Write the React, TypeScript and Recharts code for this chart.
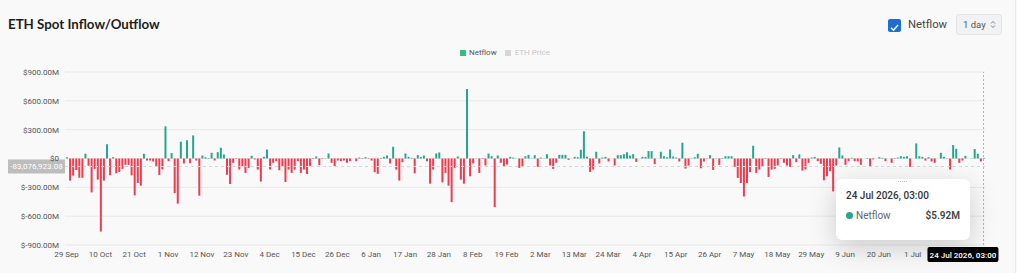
import {
  Bar,
  BarChart,
  CartesianGrid,
  Cell,
  ReferenceLine,
  Tooltip,
  XAxis,
  YAxis,
} from "recharts";

// daily netflow, $M, 29 Sep 2025 .. 24 Jul 2026
const netflow = [
  14, -230, -178, -120, -200, -200, 50, -75, -353, -108,
  -220, -760, -230, 147, -175, 14, -154, -140, -108, -66,
  -66, -175, -384, -255, -283, 49, -21, -21, -31, -80,
  -171, -115, 335, -28, 56, -360, -470, 175, -52, 190,
  -49, 240, -21, -387, 31, 14, 5, 59, -21, 66,
  112, 42, -168, -265, -45, -5, -115, -80, -150, -98,
  28, -10, -115, -240, 17, 94, -115, -45, -28, -122,
  -80, -245, -115, -150, -115, -28, -150, -115, -160, -80,
  -5, 21, -70, -5, 3, 52, -45, -80, -21, -28,
  -21, -45, -28, 0, -28, 10, -5, 14, -5, -21,
  -143, -160,
  7, 17, 31, -52, 122, -115, -230, -38, 52, 17,
  7, -154, 35, 17, 31, -28, -262, -115, 52, 63,
  -248, -150, -283, -454, -98, 21, -220, -262, 722, -185,
  -52, 3, -150, -5, -73, 52, 24, -506, 31, -45,
  -80, -63, 17, 10, 3, -98, -80, 24, 38, 3,
  35, -87, 10, 3, 45, -73, -108, -45, 38, 38,
  38, -14, 0, 17, 14, 91, 283, 17, -140, -115,
  70, -52, 10, 17, -31, 0, -73, 35, 35, 45,
  66, 31, 45, -35, 0, 17, 17, 77, 77, -59,
  0, 70, 24, 14, 94, 21, 10, -31, 164, -105,
  -73,
  3, 14, 49, -101, -31, -3, 35, -119, 3, -66,
  5, 24, 24, 24, -87, -202, -255, -395, -255, -143,
  133, -150, -115, -80, -5, -192, -115, -108, -73, -5,
  -45, -73, -87, 35, -38, 42, -126, -115, -45, 10,
  17, -28, -56, -227, -185, -133, -342, -73, 115, 31,
  -66, -28, 7, -28, -31, -66, 0, 5, -80, -10,
  0, 14, 7, -28, 0, -45, 5, 10, 24, 17,
  24, -87, 0, 157, 24, 17, -21, 14, -31, -45,
  0, 59, 17, -3, -115, 140, 101, -45, -21, 28,
  0, 3, 98, 49, -31, 5.92,
];

const tickLabels = [
  "29 Sep", "10 Oct", "21 Oct", "1 Nov", "12 Nov", "23 Nov", "4 Dec",
  "15 Dec", "26 Dec", "6 Jan", "17 Jan", "28 Jan", "8 Feb", "19 Feb",
  "2 Mar", "13 Mar", "24 Mar", "4 Apr", "15 Apr", "26 Apr", "7 May",
  "18 May", "29 May", "9 Jun", "20 Jun", "1 Jul",
];
const yTicks = [-900, -600, -300, 0, 300, 600, 900];
const months = ["Jan", "Feb", "Mar", "Apr", "May", "Jun", "Jul", "Aug", "Sep", "Oct", "Nov", "Dec"];
const startDate = Date.UTC(2025, 8, 29);
const crosshairValue = -83.07692308;

const GREEN = "#25a78b";
const RED = "#ef3b50";
const FONT = "Roboto, sans-serif";

const data = netflow.map((v, i) => {
  const d = new Date(startDate + i * 86400000);
  const day = `${d.getUTCDate()} ${months[d.getUTCMonth()]}`;
  return { day, full: `${day} ${d.getUTCFullYear()}, 03:00`, netflow: v };
});
const last = data[data.length - 1];

const fmtY = (v: number) =>
  v === 0 ? "$0" : v < 0 ? `$-${Math.abs(v)}.00M` : `$${v}.00M`;

function TipBox({ active, payload }: any) {
  if (!active || !payload || !payload.length) return null;
  const p = payload[0].payload;
  return (
    <div
      style={{
        width: 134,
        height: 61,
        boxSizing: "border-box",
        background: "#fff",
        borderRadius: 6,
        boxShadow: "0 8px 28px rgba(0,0,0,0.18)",
        padding: "11px 10px",
        fontFamily: FONT,
        position: "relative",
      }}
    >
      <div style={{ position: "absolute", left: 62, top: 2, width: 9, height: 2, borderTop: "1px dotted #bbb" }} />
      <div style={{ fontSize: 10, fontWeight: 500, color: "#333" }}>{p.full}</div>
      <div style={{ display: "flex", alignItems: "center", marginTop: 9, fontSize: 10 }}>
        <span style={{ width: 7, height: 7, borderRadius: 4, background: GREEN, marginRight: 3 }} />
        <span style={{ color: "#666", flex: 1 }}>Netflow</span>
        <span style={{ color: "#444", fontWeight: 600 }}>${p.netflow.toFixed(2)}M</span>
      </div>
    </div>
  );
}

export default function App() {
  return (
    <div
      style={{
        position: "absolute",
        left: 0,
        top: 0,
        width: 1017,
        height: 273,
        background: "#f9f9f9",
        overflow: "hidden",
        fontFamily: FONT,
      }}
    >
      <div style={{ position: "absolute", left: 8, top: 16, fontSize: 13.3, fontWeight: 700, color: "#1d1d1d", fontFamily: "Lato, sans-serif" }}>
        ETH Spot Inflow/Outflow
      </div>
      <div style={{ position: "absolute", left: 888, top: 19, width: 13, height: 13, borderRadius: 2, background: "#1b6fd1" }}>
        <svg width="13" height="13">
          <polyline points="3,6.8 5.5,9.2 10,4" fill="none" stroke="#fff" strokeWidth="1.4" />
        </svg>
      </div>
      <div style={{ position: "absolute", left: 908, top: 18, fontSize: 11.3, color: "#444" }}>Netflow</div>
      <div
        style={{
          position: "absolute",
          left: 956,
          top: 14,
          width: 46,
          height: 21,
          boxSizing: "border-box",
          border: "1px solid #e3e4e5",
          borderRadius: 3,
          background: "#f1f2f3",
          fontSize: 9.5,
          color: "#555",
          padding: "4px 0 0 6px",
        }}
      >
        1 day
        <svg width="6" height="9" style={{ position: "absolute", left: 33, top: 5 }}>
          <polyline points="1,3.5 3,1.5 5,3.5" fill="none" stroke="#777" strokeWidth="0.9" />
          <polyline points="1,5.5 3,7.5 5,5.5" fill="none" stroke="#777" strokeWidth="0.9" />
        </svg>
      </div>
      <div style={{ position: "absolute", left: 1015, top: 0, width: 1, height: 273, background: "#e8e8e8" }} />

      <div style={{ position: "absolute", left: 460, top: 48, display: "flex", fontSize: 8 }}>
        <span style={{ display: "flex", alignItems: "center", color: "#555" }}>
          <span style={{ width: 6, height: 6, background: "#2ec27e", marginRight: 3 }} />Netflow
        </span>
        <span style={{ display: "flex", alignItems: "center", color: "#c8c8c8", marginLeft: 8 }}>
          <span style={{ width: 6, height: 6, background: "#d6d6d6", marginRight: 4 }} />ETH Price
        </span>
      </div>

      <div style={{ position: "absolute", left: 0, top: 0 }}>
        <BarChart
          width={1017}
          height={273}
          data={data}
          margin={{ top: 72, right: 32, bottom: 8, left: 8 }}
          barSize={2}
        >
          <CartesianGrid stroke="#e9e9e9" vertical={false} />
          <XAxis
            dataKey="day"
            ticks={tickLabels}
            interval={0}
            tickLine={false}
            axisLine={false}
            tickSize={0}
            tickMargin={6}
            height={20}
            tick={{ fill: "#555", fontSize: 8, fontFamily: FONT }}
          />
          <YAxis
            domain={[-900, 900]}
            ticks={yTicks}
            tickFormatter={fmtY}
            tickLine={false}
            axisLine={false}
            tickSize={0}
            tickMargin={6}
            width={57}
            tick={{ fill: "#555", fontSize: 8, fontFamily: FONT }}
          />
          <ReferenceLine
            y={crosshairValue}
            stroke="#d6d6d6"
            strokeDasharray="3 3"
            label={(props: any) => {
              const vb = props.viewBox;
              return (
                <g>
                  <rect x={vb.x - 57} y={vb.y - 7} width={57} height={14} fill="#bdbdbd" />
                  <text x={vb.x - 28.5} y={vb.y + 3} textAnchor="middle" fill="#fff" fontSize={8} fontFamily={FONT}>
                    -83,076,923.08
                  </text>
                </g>
              );
            }}
          />
          <ReferenceLine
            x={last.day}
            stroke="#b0b0b0"
            strokeDasharray="2 2"
            label={(props: any) => {
              const vb = props.viewBox;
              return (
                <g>
                  <rect x={vb.x - 56} y={247} width={71} height={15} rx={2} fill="#000" />
                  <text x={vb.x - 20.5} y={257.5} textAnchor="middle" fill="#fff" fontSize={8} fontWeight={600} fontFamily={FONT}>
                    {last.full}
                  </text>
                </g>
              );
            }}
          />
          <Tooltip
            active
            defaultIndex={data.length - 1}
            cursor={false}
            position={{ x: 836, y: 179 }}
            isAnimationActive={false}
            wrapperStyle={{ transition: "none" }}
            content={TipBox}
          />
          <Bar dataKey="netflow" isAnimationActive={false}>
            {data.map((d, i) => (
              <Cell key={i} fill={d.netflow >= 0 ? GREEN : RED} />
            ))}
          </Bar>
        </BarChart>
      </div>
    </div>
  );
}
